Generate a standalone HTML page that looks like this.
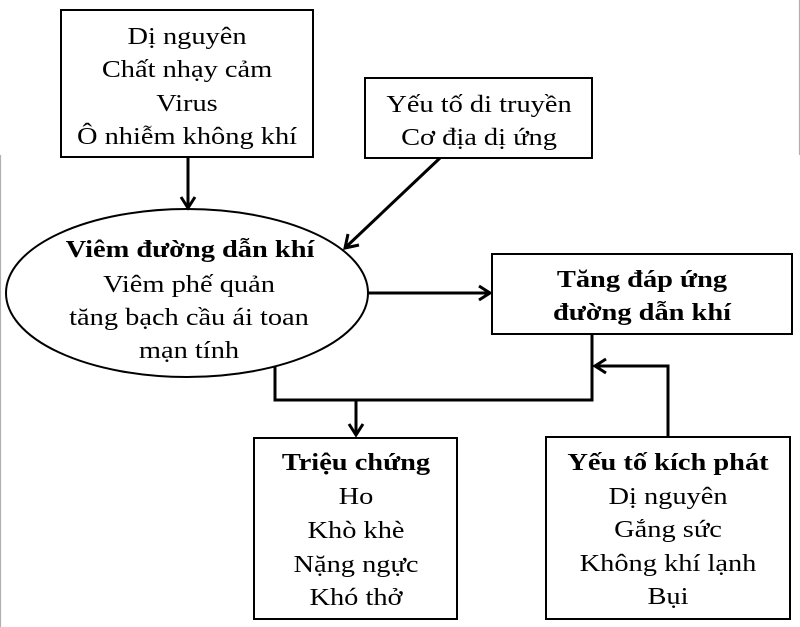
<!DOCTYPE html>
<html><head><meta charset="utf-8"><style>
html,body{margin:0;padding:0;background:#fff;}
svg{display:block;}
text{font-family:"Liberation Serif","Times New Roman",serif;font-size:24.5px;fill:#000;}
.b{font-weight:bold;}
</style></head><body>
<svg width="800" height="627" viewBox="0 0 800 627" xmlns="http://www.w3.org/2000/svg">
<rect width="800" height="627" fill="#fff"/>
<line x1="0.5" y1="155" x2="0.5" y2="627" stroke="#b0b0b0" stroke-width="1.2"/>
<line x1="799.5" y1="0" x2="799.5" y2="155" stroke="#b0b0b0" stroke-width="1.2"/>

<!-- boxes -->
<rect x="61" y="10" width="252" height="147" fill="none" stroke="#000" stroke-width="2"/>
<rect x="365" y="78" width="227" height="80" fill="none" stroke="#000" stroke-width="2"/>
<ellipse cx="187" cy="293" rx="181" ry="84" fill="none" stroke="#000" stroke-width="2"/>
<rect x="492" y="254" width="300" height="80" fill="none" stroke="#000" stroke-width="2"/>
<rect x="254" y="438" width="203" height="181" fill="none" stroke="#000" stroke-width="2"/>
<rect x="546" y="437" width="244" height="182" fill="none" stroke="#000" stroke-width="2"/>

<!-- connectors -->
<g stroke="#000" stroke-width="3" fill="none" stroke-linejoin="miter">
  <line x1="188" y1="157" x2="188" y2="208"/>
  <polyline points="181,197 188,208 195,197"/>
  <line x1="440" y1="158" x2="346" y2="247"/>
  <polyline points="348,234 345,248 359,245"/>
  <line x1="368" y1="293" x2="490" y2="293"/>
  <polyline points="479,286 490,293 479,300"/>
  <polyline points="275,367 275,400 592,400 592,334"/>
  <line x1="356" y1="400" x2="356" y2="435"/>
  <polyline points="349,424 356,435 363,424"/>
  <polyline points="668,437 668,366 595,366"/>
  <polyline points="606,359 595,366 606,373"/>
</g>

<!-- text -->
<g text-anchor="middle">
  <text transform="translate(187,44) scale(1.16,1)">Dị nguyên</text>
  <text transform="translate(187,77) scale(1.16,1)">Chất nhạy cảm</text>
  <text transform="translate(187,111) scale(1.16,1)">Virus</text>
  <text transform="translate(187,144) scale(1.16,1)">Ô nhiễm không khí</text>

  <text transform="translate(479,112) scale(1.16,1)">Yếu tố di truyền</text>
  <text transform="translate(479,145) scale(1.16,1)">Cơ địa dị ứng</text>

  <text class="b" transform="translate(190,257) scale(1.16,1)">Viêm đường dẫn khí</text>
  <text transform="translate(189,292) scale(1.16,1)">Viêm phế quản</text>
  <text transform="translate(189,325) scale(1.16,1)">tăng bạch cầu ái toan</text>
  <text transform="translate(189,358) scale(1.16,1)">mạn tính</text>

  <text class="b" transform="translate(642,287) scale(1.16,1)">Tăng đáp ứng</text>
  <text class="b" transform="translate(642,320) scale(1.16,1)">đường dẫn khí</text>

  <text class="b" transform="translate(356,470) scale(1.16,1)">Triệu chứng</text>
  <text transform="translate(356,504) scale(1.16,1)">Ho</text>
  <text transform="translate(356,538) scale(1.16,1)">Khò khè</text>
  <text transform="translate(356,572) scale(1.16,1)">Nặng ngực</text>
  <text transform="translate(356,605) scale(1.16,1)">Khó thở</text>

  <text class="b" transform="translate(668,470) scale(1.16,1)">Yếu tố kích phát</text>
  <text transform="translate(668,504) scale(1.16,1)">Dị nguyên</text>
  <text transform="translate(668,537) scale(1.16,1)">Gắng sức</text>
  <text transform="translate(668,571) scale(1.16,1)">Không khí lạnh</text>
  <text transform="translate(668,604) scale(1.16,1)">Bụi</text>
</g>
</svg>
</body></html>
